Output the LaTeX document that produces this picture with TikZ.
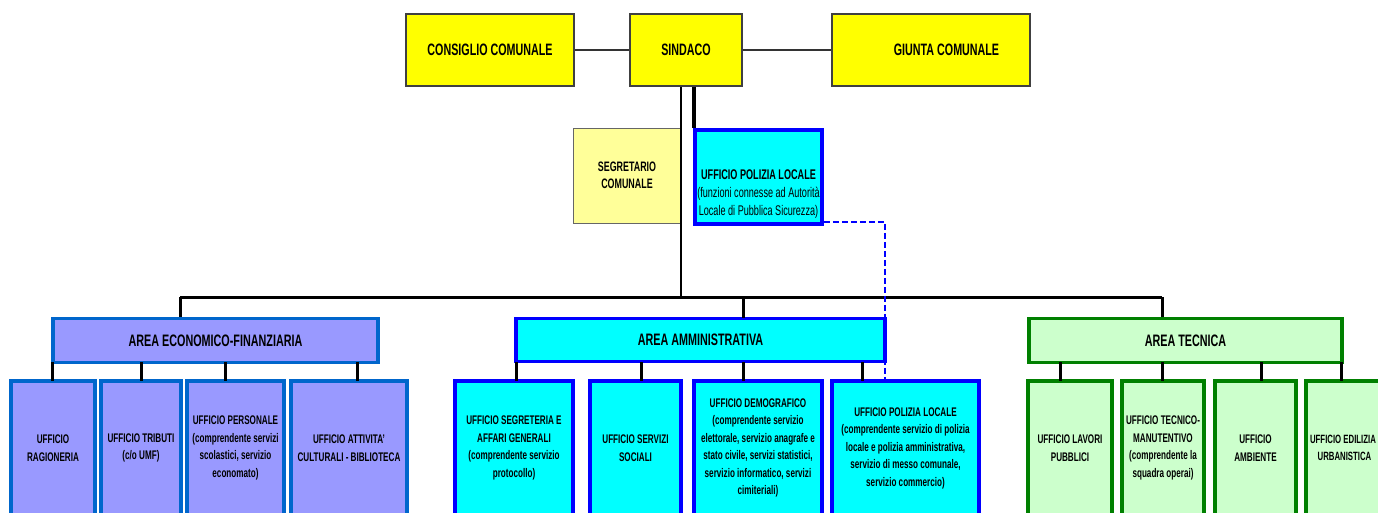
\documentclass[tikz,border=0pt]{standalone}
\usepackage{fontspec}
\setmainfont{Liberation Sans}[FakeStretch=0.65]
\definecolor{yel}{HTML}{FFFF00}
\definecolor{lyel}{HTML}{FFFF99}
\definecolor{cy}{HTML}{00FFFF}
\definecolor{bl}{HTML}{0000FF}
\definecolor{lav}{HTML}{9999FF}
\definecolor{lavb}{HTML}{0066CC}
\definecolor{lgr}{HTML}{CCFFCC}
\definecolor{gr}{HTML}{008000}
\newcommand\parfnt{\fontsize{14}{18}\mdseries\selectfont}
\begin{document}
\begin{tikzpicture}[x=1pt,y=-1pt,
  topbox/.style={draw=black!75, line width=1.2pt, fill=yel, inner sep=0pt,
    font=\fontsize{16.5}{18}\selectfont\bfseries},
  segbox/.style={draw=black!60, line width=1pt, fill=lyel, inner sep=0pt, align=center,
    font=\fontsize{13.7}{17}\selectfont\bfseries},
  areabox/.style={line width=3.5pt, inner sep=0pt,
    font=\fontsize{16.6}{18}\selectfont\bfseries},
  eco/.style={draw=lavb, fill=lav},
  amm/.style={draw=bl, fill=cy},
  tecn/.style={draw=gr, fill=lgr},
  office/.style={line width=3.5pt, inner sep=0pt, align=center, minimum height=134pt,
    font=\fontsize{12.5}{17.5}\selectfont\bfseries},
  thin/.style={draw=black!80, line width=1.2pt},
  bus/.style={draw=black, line width=3pt},
  drop/.style={draw=black, line width=3pt},
]
\useasboundingbox (0,0) rectangle (1378,512);
\clip (0,0) rectangle (1378,512);

% top row
\node[topbox, minimum width=168pt, minimum height=72pt] (cons) at (490,50) {CONSIGLIO COMUNALE};
\node[topbox, minimum width=112pt, minimum height=72pt] (sind) at (686,50) {SINDACO};
\node[topbox, minimum width=198pt, minimum height=72pt] (giun) at (931,50) {\hspace*{31pt}GIUNTA COMUNALE};
\draw[thin] (cons.east) -- (sind.west);
\draw[thin] (sind.east) -- (giun.west);

% staff
\node[segbox, minimum width=108pt, minimum height=95pt] (segr) at (627,175.5) {SEGRETARIO\\COMUNALE};
\node[draw=bl, fill=cy, line width=3.5pt, inner sep=0pt, minimum width=127pt, minimum height=94pt,
  label={[yshift=-17pt, align=center, font=\fontsize{14}{18}\selectfont\bfseries]center:UFFICIO POLIZIA LOCALE\\{\parfnt (funzioni connesse ad Autorità}\\{\parfnt Locale di Pubblica Sicurezza)}}]
  (polT) at (758.5,177) {};

% areas
\node[areabox, eco, minimum width=325pt, minimum height=44pt] (areaE) at (215.5,340.5) {AREA ECONOMICO-FINANZIARIA};
\node[areabox, amm, minimum width=369pt, minimum height=43pt] (areaA) at (700.5,340) {AREA AMMINISTRATIVA};
\node[areabox, tecn, minimum width=313pt, minimum height=44pt] (areaT) at (1185.5,340.5) {AREA TECNICA};

% offices
\node[office, eco, minimum width=84pt] (rag) at (53,448) {UFFICIO\\RAGIONERIA};
\node[office, eco, minimum width=80pt] (trib) at (141,448) {UFFICIO TRIBUTI\\(c/o UMF)};
\node[office, eco, minimum width=97pt] (pers) at (235.5,448) {UFFICIO PERSONALE\\(comprendente servizi\\scolastici, servizio\\economato)};
\node[office, eco, minimum width=116pt] (att) at (349,448) {UFFICIO ATTIVITA'\\CULTURALI - BIBLIOTECA};

\node[office, amm, minimum width=118pt] (segA) at (514,448) {UFFICIO SEGRETERIA E\\AFFARI GENERALI\\(comprendente servizio\\protocollo)};
\node[office, amm, minimum width=91pt] (soc) at (635.5,448) {UFFICIO SERVIZI\\SOCIALI};
\node[office, amm, minimum width=128pt] (demo) at (758,448) {UFFICIO DEMOGRAFICO\\(comprendente servizio\\elettorale, servizio anagrafe e\\stato civile, servizi statistici,\\servizio informatico, servizi\\cimiteriali)};
\node[office, amm, minimum width=147pt] (polB) at (905.5,448) {UFFICIO POLIZIA LOCALE\\(comprendente servizio di polizia\\locale e polizia amministrativa,\\servizio di messo comunale,\\servizio commercio)};

\node[office, tecn, minimum width=84pt] (lav) at (1070,448) {UFFICIO LAVORI\\PUBBLICI};
\node[office, tecn, minimum width=82pt] (tec) at (1163,448) {UFFICIO TECNICO-\\MANUTENTIVO\\(comprendente la\\squadra operai)};
\node[office, tecn, minimum width=81pt] (amb) at (1255.5,448) {UFFICIO\\AMBIENTE};
\node[office, tecn, minimum width=81pt, font=\fontsize{12}{17.5}\selectfont\bfseries] (edi) at (1346.5,448) {UFFICIO EDILIZIA\hspace*{7pt}\\URBANISTICA\hspace*{4pt}};

% connectors from sindaco
\coordinate (busL) at (180,297);
\coordinate (busR) at (1162,297);
\coordinate (busM) at (681,297);
\draw[draw=black, line width=2.5pt] ([xshift=-5pt]sind.south) -- (busM);
\draw[draw=black, line width=3.5pt] ([xshift=8pt]sind.south) -- ([xshift=8pt]sind.south |- polT.north);
\draw[bus] (busL) -- (busR);
\draw[drop] (busL) -- (busL |- areaE.north);
\draw[drop] (743,297) -- (743,318);
\draw[drop] (busR) -- (busR |- areaT.north);

% dashed functional link
\coordinate (dk) at (885,222);
\draw[draw=bl, line width=1.2pt, dash pattern=on 6pt off 3pt] (polT.east |- dk) -- (dk) -- (dk |- polB.north);

% drops to offices
\foreach \n/\x in {rag/52,trib/141,pers/225,att/357}
  \draw[drop] (\x,362) -- (\x,381);
\foreach \n/\x in {segA/516,soc/641,demo/743,polB/862}
  \draw[drop] (\x,362) -- (\x,381);
\foreach \n/\x in {lav/1060,tec/1162,amb/1261,edi/1341}
  \draw[drop] (\x,362) -- (\x,381);
\end{tikzpicture}
\end{document}
